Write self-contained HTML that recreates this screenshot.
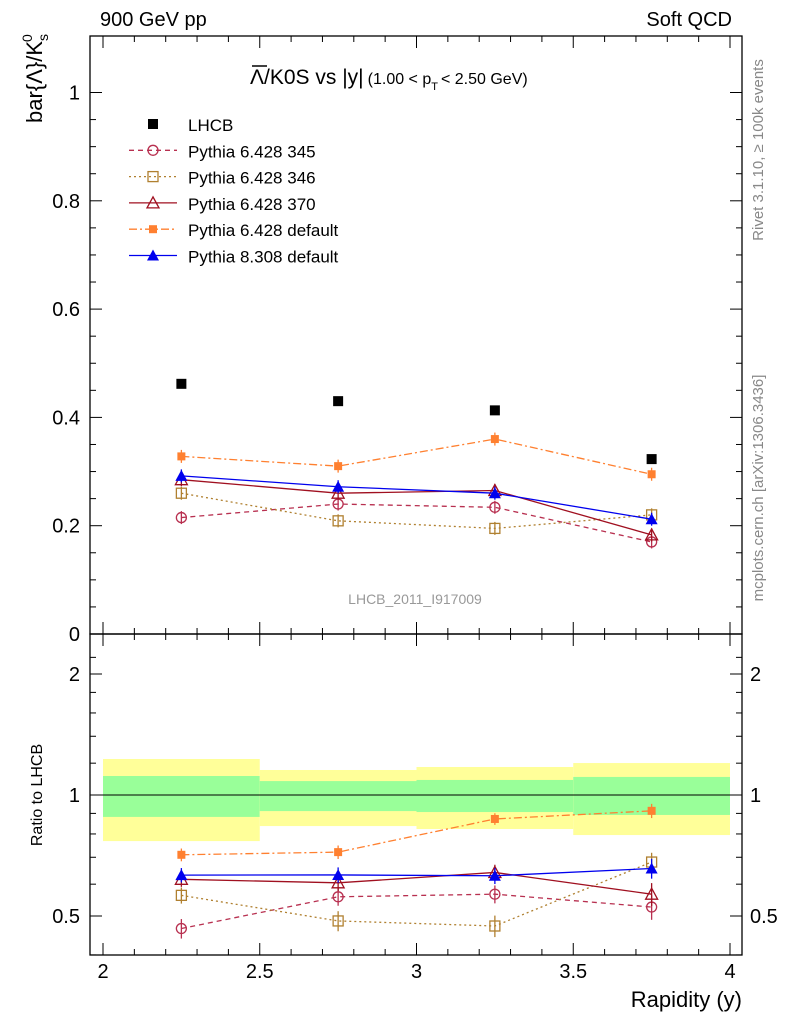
<!DOCTYPE html>
<html><head><meta charset="utf-8"><style>
body{margin:0;background:#fff}
svg{display:block;font-family:"Liberation Sans","DejaVu Sans",sans-serif}
</style></head><body>
<svg id="c" width="786" height="1024" viewBox="0 0 786 1024"></svg>
<script>
const categories=[2.25,2.75,3.25,3.75];
const binEdges=[2,2.5,3,3.5,4];
const lhcb=[0.462,0.430,0.413,0.323];
const p345=[0.215,0.240,0.234,0.170];
const p346=[0.260,0.209,0.195,0.220];
const p370=[0.285,0.260,0.265,0.183];
const p6def=[0.328,0.310,0.360,0.295];
const p8def=[0.292,0.272,0.260,0.212];
const errs=[0.012,0.012,0.012,0.012];
const yellowHi=[1.229,1.154,1.174,1.201];
const yellowLo=[0.768,0.837,0.823,0.795];
const greenHi=[1.115,1.083,1.09,1.109];
const greenLo=[0.882,0.912,0.907,0.892];
const xTicks=[2,2.5,3,3.5,4];
const xTickLabels=["2","2.5","3","3.5","4"];
const yTicks=[0,0.2,0.4,0.6,0.8,1];
const yTickLabels=["0","0.2","0.4","0.6","0.8","1"];
const rTicks=[0.5,1,2];
const rTickLabels=["0.5","1","2"];

const NS="http://www.w3.org/2000/svg";
const svg=document.getElementById('c');
function el(tag,attrs,parent,text){const e=document.createElementNS(NS,tag);for(const k in attrs)e.setAttribute(k,attrs[k]);if(text!==undefined)e.textContent=text;(parent||svg).appendChild(e);return e;}
const L=90,R=742,T=36,MB=634,RB=955;
const X=v=>103+(v-2)*313.5;
const Y=v=>634-v*541.5;
const RY=v=>795-Math.log2(v)*121;

for(let i=0;i<4;i++){
 let r=el('rect',{x:X(binEdges[i]),y:RY(yellowHi[i]),width:X(binEdges[i+1])-X(binEdges[i]),height:RY(yellowLo[i])-RY(yellowHi[i]),fill:'#ffff99'});
 
 let g=el('rect',{x:X(binEdges[i]),y:RY(greenHi[i]),width:X(binEdges[i+1])-X(binEdges[i]),height:RY(greenLo[i])-RY(greenHi[i]),fill:'#99ff99'});
 
}
el('line',{x1:L,x2:R,y1:RY(1),y2:RY(1),stroke:'#000','stroke-width':1});

el('rect',{x:L,y:T,width:R-L,height:MB-T,fill:'none',stroke:'#000','stroke-width':1.3});
el('rect',{x:L,y:MB,width:R-L,height:RB-MB,fill:'none',stroke:'#000','stroke-width':1.3});

for(let v=2;v<=4.001;v+=0.1){const big=Math.abs(v*2-Math.round(v*2))<1e-6;const len=big?12:6;
 for(const [yt,yb] of [[T,MB],[MB,RB]]){
  el('line',{x1:X(v),x2:X(v),y1:yb,y2:yb-len,stroke:'#000'});
  el('line',{x1:X(v),x2:X(v),y1:yt,y2:yt+len,stroke:'#000'});}}
xTicks.forEach((v,i)=>{const t=el('text',{x:X(v),y:978,'text-anchor':'middle','font-size':20},svg,xTickLabels[i]);});
for(let v=0;v<=1.05;v+=0.05){const big=Math.abs(v*5-Math.round(v*5))<1e-6;const len=big?12:6;
 el('line',{x1:L,x2:L+len,y1:Y(v),y2:Y(v),stroke:'#000'});el('line',{x1:R,x2:R-len,y1:Y(v),y2:Y(v),stroke:'#000'});}
yTicks.forEach((v,i)=>{const t=el('text',{x:80,y:Y(v)+7,'text-anchor':'end','font-size':20},svg,yTickLabels[i]);});
[0.4,0.5,0.6,0.7,0.8,0.9,1,1.2,1.4,1.6,1.8,2,2.2].forEach(v=>{const big=rTicks.includes(v);const len=big?12:6;
 el('line',{x1:L,x2:L+len,y1:RY(v),y2:RY(v),stroke:'#000'});el('line',{x1:R,x2:R-len,y1:RY(v),y2:RY(v),stroke:'#000'});});
rTicks.forEach((v,i)=>{el('text',{x:80,y:RY(v)+7,'text-anchor':'end','font-size':20},svg,rTickLabels[i]);el('text',{x:750,y:RY(v)+7,'font-size':20},svg,rTickLabels[i]);});

function marker(type,x,y,color){
 const s=5;
 if(type==='sq')return el('rect',{x:x-s,y:y-s,width:2*s,height:2*s,fill:color});
 if(type==='osq')return el('rect',{x:x-s,y:y-s,width:2*s,height:2*s,fill:'none',stroke:color,'stroke-width':1.3});
 if(type==='sqs')return el('rect',{x:x-4,y:y-4,width:8,height:8,fill:color});
 if(type==='oc')return el('circle',{cx:x,cy:y,r:5,fill:'none',stroke:color,'stroke-width':1.3});
 if(type==='ot')return el('polygon',{points:`${x},${y-6} ${x-6},${y+5} ${x+6},${y+5}`,fill:'none',stroke:color,'stroke-width':1.3});
 if(type==='t')return el('polygon',{points:`${x},${y-6} ${x-6},${y+5} ${x+6},${y+5}`,fill:color});
}
const series=[
 {name:'pythia-6428-345',d:p345,c:'#b83050',dash:'5,4',m:'oc'},
 {name:'pythia-6428-346',d:p346,c:'#b08030',dash:'2,3',m:'osq'},
 {name:'pythia-6428-370',d:p370,c:'#a01020',dash:'',m:'ot'},
 {name:'pythia-6428-default',d:p6def,c:'#ff8030',dash:'8,3,2,3',m:'sqs'},
 {name:'pythia-8308-default',d:p8def,c:'#0000ee',dash:'',m:'t'}];
series.forEach(s=>{
 for(const ratio of [false,true]){
  const fy=i=>ratio?RY(s.d[i]/lhcb[i]):Y(s.d[i]);
  const p=el('polyline',{points:categories.map((x,i)=>X(x)+','+fy(i)).join(' '),fill:'none',stroke:s.c,'stroke-width':1.3,'stroke-dasharray':s.dash});
  
  categories.forEach((x,i)=>{
   const lo=ratio?RY((s.d[i]-errs[i])/lhcb[i]):Y(s.d[i]-errs[i]);
   const hi=ratio?RY((s.d[i]+errs[i])/lhcb[i]):Y(s.d[i]+errs[i]);
   el('line',{x1:X(x),x2:X(x),y1:lo,y2:hi,stroke:s.c,'stroke-width':1.3});
   const m=marker(s.m,X(x),fy(i),s.c);
   
  });
 }
});
categories.forEach((x,i)=>{const m=marker('sq',X(x),Y(lhcb[i]),'#000');});

const leg=[['LHCB','sq','#000',''],['Pythia 6.428 345','oc','#b83050','5,4'],['Pythia 6.428 346','osq','#b08030','2,3'],['Pythia 6.428 370','ot','#a01020',''],['Pythia 6.428 default','sqs','#ff8030','8,3,2,3'],['Pythia 8.308 default','t','#0000ee','']];
leg.forEach((l,i)=>{const y=124+i*26.3;
 const g=el('g',{});
 if(i>0)el('line',{x1:129,x2:177,y1:y,y2:y,stroke:l[2],'stroke-width':1.3,'stroke-dasharray':l[3]},g);
 marker(l[1],153,y,l[2]);
 el('text',{x:188,y:y+7,'font-size':17},g,l[0]);});

const title=el('text',{x:250,y:84,'font-size':21},svg);

el('tspan',{},title,'Λ/K0S vs |y|');
el('tspan',{'font-size':16,dx:4},title,'(1.00 < p');
el('tspan',{'font-size':11,dy:6},title,'T');
el('tspan',{'font-size':16,dy:-6,dx:3},title,'< 2.50 GeV)');
el('line',{x1:252,x2:267,y1:66,y2:66,stroke:'#000','stroke-width':1.5});
el('text',{x:100,y:26,'font-size':20},svg,'900 GeV pp');
el('text',{x:732,y:26,'font-size':20,'text-anchor':'end'},svg,'Soft QCD');
el('text',{x:415,y:604,'font-size':14,fill:'#999','text-anchor':'middle'},svg,'LHCB_2011_I917009');
el('text',{x:742,y:1007,'font-size':22,'text-anchor':'end'},svg,'Rapidity (y)');
const yl=el('text',{x:0,y:0,'font-size':22,transform:'translate(42,34) rotate(-90)','text-anchor':'end'},svg,'bar{Λ}/K');

el('tspan',{'font-size':14,dy:6},yl,'s');el('tspan',{'font-size':14,dx:-8,dy:-16},yl,'0');
el('text',{x:0,y:0,'font-size':16,transform:'translate(42,795) rotate(-90)','text-anchor':'middle'},svg,'Ratio to LHCB');
el('text',{x:0,y:0,'font-size':15,fill:'#888',transform:'translate(763,150) rotate(-90)','text-anchor':'middle'},svg,'Rivet 3.1.10, ≥ 100k events');
el('text',{x:0,y:0,'font-size':15,fill:'#888',transform:'translate(763,488) rotate(-90)','text-anchor':'middle'},svg,'mcplots.cern.ch [arXiv:1306.3436]');
</script>
</body></html>
